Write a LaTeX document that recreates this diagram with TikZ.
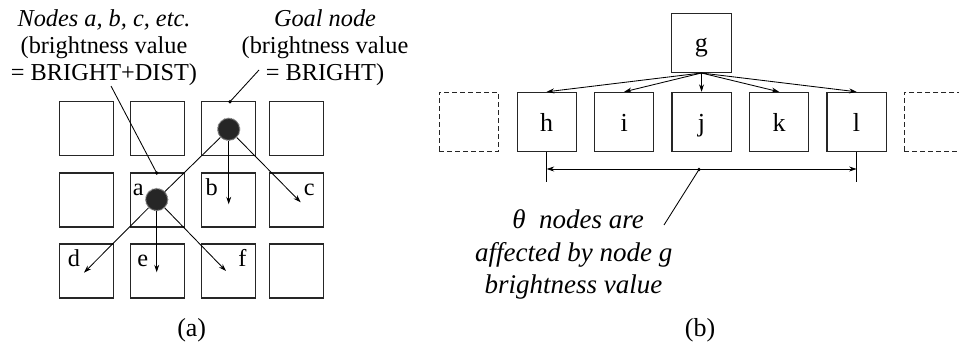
\documentclass[tikz,border=0pt]{standalone}
\usepackage{fontspec}
\setmainfont{Liberation Serif}
\usetikzlibrary{arrows.meta,calc}

\begin{document}
\begin{tikzpicture}[x=1pt,y=-1pt,
  cell/.style={draw=black!85,line width=1.1pt,minimum size=54pt,inner sep=0pt},
  bcell/.style={draw=black!85,line width=1.1pt,minimum size=59.3pt,inner sep=0pt,
    font=\fontsize{26}{28}\selectfont,text height=18pt,text depth=0pt},
  ghost/.style={bcell,dash pattern=on 5pt off 3pt},
  lamp/.style={circle,minimum size=22pt,inner sep=0pt,fill=black!85,draw=black!55,
    line width=1.3pt,dash pattern=on 0.7pt off 0.7pt},
  txt/.style={anchor=base,inner sep=0pt,font=\fontsize{24.3}{26.7}\selectfont},
  itxt/.style={anchor=base,inner sep=0pt,font=\fontsize{24.3}{26.7}\selectfont\itshape},
  btxt/.style={anchor=base,inner sep=0pt,font=\fontsize{27}{32}\selectfont\itshape},
  captxt/.style={anchor=base,inner sep=0pt,font=\fontsize{26}{30}\selectfont},
  conn/.style={line width=0.85pt,-{Stealth[length=7.5pt,width=5pt]}},
  lead/.style={line width=0.85pt},
  pin/.style={circle,fill=black,inner sep=0pt,minimum size=3.8pt}
]
\useasboundingbox (0,0) rectangle (959,343);

% ---------- (a) grid of cells ----------
\foreach \x [count=\c] in {86.3,157.7,228.7,296.3}
  \foreach \y [count=\r] in {128.7,200,271}
    \node[cell] (s\r\c) at (\x,\y) {};

\node[lamp] (goal) at (228.7,129.3) {};
\node[lamp] (lampa) at (156.7,199.6) {};

% cell letters
\node[txt] (la) at (138.3,195) {a};
\node[txt] (lb) at (211.7,195) {b};
\node[txt] (lc) at (309.3,195) {c};
\node[txt] (ld) at (74,266.5) {d};
\node[txt] (le) at (142.7,266.5) {e};
\node[txt] (lf) at (242.3,266.5) {f};

% spreading of brightness
\coordinate (tb) at (228.7,204.3);
\coordinate (tc) at (300.7,202.3);
\coordinate (td) at (84,272.7);
\coordinate (te) at (156.7,272.3);
\coordinate (tf) at (226,271);
\draw[lead] (goal) -- (lampa);
\draw[conn] (goal) -- (tb);
\draw[conn] (goal) -- (tc);
\draw[conn] (lampa) -- (td);
\draw[conn] (lampa) -- (te);
\draw[conn] (lampa) -- (tf);

% annotations
\node[itxt] (n1) at (104,26.7) {Nodes a, b, c, etc.};
\node[txt]  (n2) at (104,53.3) {(brightness value};
\node[txt]  (n3) at (104,80) {= BRIGHT+DIST)};
\node[itxt] (m1) at (325,26.7) {Goal node};
\node[txt]  (m2) at (325,53.3) {(brightness value};
\node[txt]  (m3) at (325,80) {= BRIGHT)};

\coordinate (q1) at (111,86);
\node[pin] (p1) at (156.7,173) {};
\draw[lead] (q1) -- (p1.center);
\coordinate (q2) at (259,70);
\node[pin] (p2) at (230,101.7) {};
\draw[lead] (q2) -- (p2.center);

\node[captxt] (capa) at (191.7,336) {(a)};

% ---------- (b) row of nodes ----------
\node[bcell] (g) at (701.4,42.8) {g};
\node[ghost] (gl) at (468.7,122) {};
\node[bcell] (h) at (546.7,122) {h};
\node[bcell] (i) at (624.2,122) {i};
\node[bcell] (j) at (701.6,122) {j};
\node[bcell] (k) at (779.1,122) {k};
\node[bcell] (l) at (856.6,122) {l};
\node[ghost] (gr) at (934.1,122) {};

\foreach \t in {h,i,j,k,l}
  \draw[conn] (g.south) -- (\t.north);

% span of affected nodes
\coordinate (hb) at (546.7,181.7);
\coordinate (lbot) at (856.6,181.7);
\draw[lead] (h.south) -- (hb);
\draw[lead] (l.south) -- (lbot);
\coordinate (ha) at (546.7,169);
\coordinate (lr) at (856.6,169);
\draw[lead,{Stealth[length=7.5pt,width=5pt]}-{Stealth[length=7.5pt,width=5pt]}] (ha) -- (lr);
\node[pin] (mid) at (699,169.5) {};
\coordinate (q3) at (664,225);
\draw[lead] (mid.center) -- (q3);

\node[btxt] (t1) at (578,228.3) {θ\hspace{0.5em}nodes are};
\node[btxt] (t2) at (573.7,261.7) {affected by node g};
\node[btxt] (t3) at (573.5,293.3) {brightness value};

\node[captxt] (capb) at (700,336) {(b)};
\end{tikzpicture}
\end{document}
